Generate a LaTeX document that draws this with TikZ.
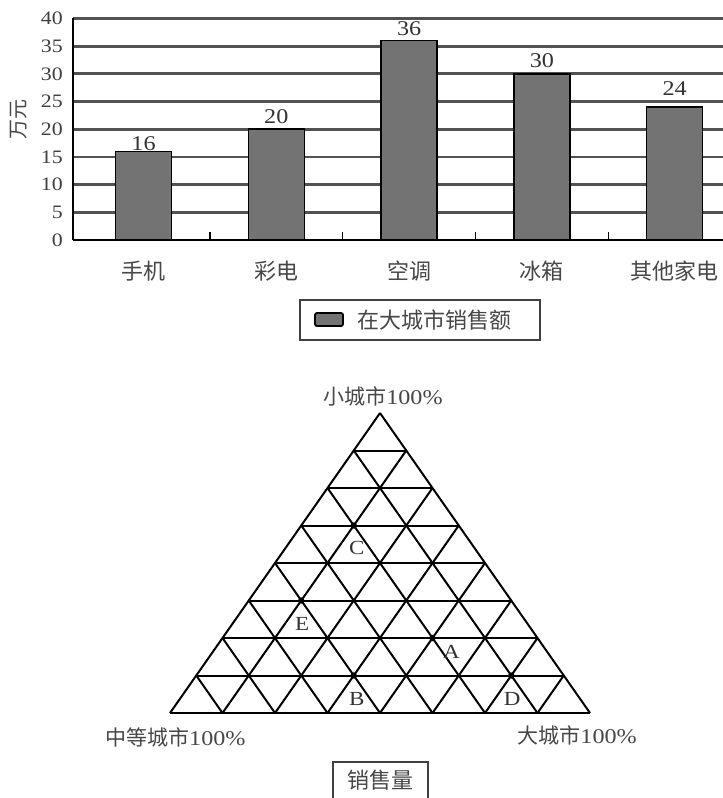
\documentclass[tikz,border=0pt]{standalone}
\usepackage{fontspec}
\usetikzlibrary{calc}
\setmainfont{Liberation Serif}
\newfontfamily\cjk{Noto Sans CJK SC}
\newfontfamily\numf[FakeStretch=1.15]{Liberation Serif}
\tikzset{
  gridl/.style={draw=black!68, line width=2.8pt},
  axisl/.style={draw=black, line width=1.8pt},
  barbox/.style={fill=black!55, draw=black, line width=1.5pt},
  ynum/.style={anchor=east, inner sep=0pt, text=black!75, font=\numf\fontsize{19}{21}\selectfont},
  vnum/.style={inner sep=0pt, text=black!80, font=\numf\fontsize{21}{23}\selectfont},
  cjklab/.style={inner sep=0pt, text=black!72, font=\cjk\fontsize{22}{25}\selectfont},
  cornerlab/.style={inner sep=0pt, text=black!72, font=\cjk\fontsize{21}{24}\selectfont},
  triline/.style={draw=black, line width=2pt},
  ptlab/.style={inner sep=0pt, text=black!80, font=\numf\fontsize{20}{22}\selectfont},
  dotp/.style={fill=black}
}
\begin{document}
\begin{tikzpicture}[x=1pt, y=-1pt]
\useasboundingbox (0,0) rectangle (723,798);
\fill[white] (0,0) rectangle (723,798);
% ---------------- bar chart ----------------
\foreach \v in {5,10,...,40} {
  \draw[gridl] (73,{240-5.54*\v}) -- (723,{240-5.54*\v});
}
\foreach \v in {0,5,...,40} {
  \node[ynum] (y\v) at (63,{240-5.54*\v}) {\v};
}
\draw[axisl] (73,240) -- (73,18);
\draw[axisl, line width=2.2pt] (73,240) -- (723,240);
\foreach \x in {209.9,342.7,475.5,608.3} {
  \draw[black, line width=1.5pt] (\x,240) -- (\x,232);
}
\node[cjklab, rotate=90, font=\cjk\fontsize{20}{22}\selectfont] (unit) at (19,119) {万元};
% bars
\foreach \c/\v/\ly/\name/\lab in {143.5/16/143.5/b1/手机, 276.3/20/116.5/b2/彩电, 409.1/36/28.5/b3/空调, 541.9/30/60.5/b4/冰箱, 674.7/24/88.5/b5/其他家电} {
  \draw[barbox] ({\c-28},240) rectangle ({\c+28},{240-5.54*\v});
  \node[vnum] (v\name) at (\c,\ly) {\v};
  \node[cjklab] (c\name) at (\c,271) {\lab};
}
% legend
\draw[draw=black!75, line width=1.5pt] (300,300) rectangle (540,340);
\draw[fill=black!55, draw=black, line width=1.8pt, rounded corners=2pt] (315,313) rectangle (343,326);
\node[cjklab, anchor=west] (legend) at (357,320) {在大城市销售额};
% ---------------- ternary triangle ----------------
\foreach \k in {0,...,8} {
  \pgfmathtruncatemacro{\jm}{8-\k}
  \foreach \j in {0,...,\jm} {
    \coordinate (T-\k-\j) at ({170+26.25*\k+52.5*\j},{713-37.5*\k});
  }
}
% horizontal lines
\foreach \k in {0,...,7} {
  \pgfmathtruncatemacro{\jm}{8-\k}
  \draw[triline] (T-\k-0) -- (T-\k-\jm);
}
% up-right lines
\foreach \j in {0,...,7} {
  \pgfmathtruncatemacro{\km}{8-\j}
  \draw[triline] (T-0-\j) -- (T-\km-\j);
}
% up-left lines
\foreach \m in {1,...,8} {
  \draw[triline] (T-0-\m) -- (T-\m-0);
}
% points
\foreach \p in {5-1, 3-1, 2-4, 1-3, 1-6} {
  \fill[dotp] (T-\p) circle (3.2pt);
}
\node[ptlab] (lC) at ($(T-5-1)+(3,22)$) {C};
\node[ptlab] (lE) at ($(T-3-1)+(1,23)$) {E};
\node[ptlab] (lA) at ($(T-2-4)+(19,14)$) {A};
\node[ptlab] (lB) at ($(T-1-3)+(3,23)$) {B};
\node[ptlab] (lD) at ($(T-1-6)+(1,23)$) {D};
% corner labels
\node[cornerlab] (small) at (383,396) {小城市{\numf 100\%}};
\node[cornerlab, anchor=west] (mid) at (105,737) {中等城市{\numf 100\%}};
\node[cornerlab, anchor=east] (big) at (637,735) {大城市{\numf 100\%}};
% bottom box
\draw[draw=black!75, line width=1.5pt] (333,800) -- (333,762) -- (428,762) -- (428,800);
\node[cjklab] (sales) at (380.5,780) {销售量};
\end{tikzpicture}
\end{document}
